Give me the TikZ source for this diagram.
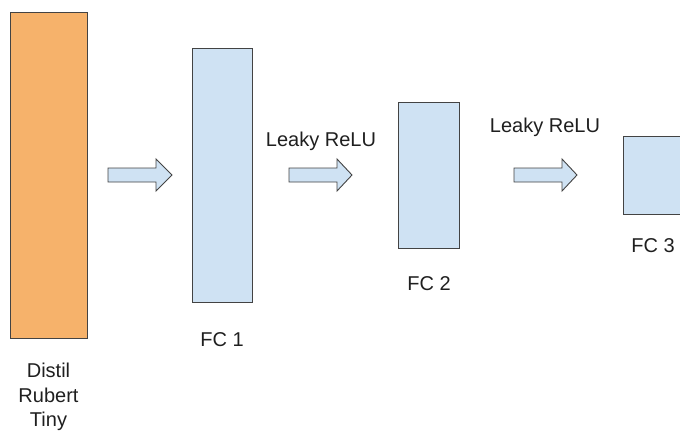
\documentclass[tikz,border=0pt]{standalone}
\usepackage{fontspec}
\setmainfont{Liberation Sans}
\definecolor{edge}{HTML}{434343}
\definecolor{orangefill}{HTML}{F6B26B}
\definecolor{bluefill}{HTML}{CFE2F3}
\definecolor{txt}{HTML}{1F1F1F}
\begin{document}
\begin{tikzpicture}[x=1pt,y=-1pt,
  layer/.style={draw=edge,line width=0.9pt},
  blockarrow/.style={draw=edge,fill=bluefill,line width=0.9pt,line join=miter},
  lbl/.style={text=txt,font=\fontsize{20}{24.5}\selectfont,inner sep=0pt,align=center}]
\useasboundingbox (0,0) rectangle (680,432);
% layers
\filldraw[layer,fill=orangefill] (10,12) rectangle (87,338);
\filldraw[layer,fill=bluefill] (192,48) rectangle (252,302);
\filldraw[layer,fill=bluefill] (398,102) rectangle (459,248);
\filldraw[layer,fill=bluefill] (623,136) rectangle (690,214);
% labels
\node[lbl] (lb) at (48.5,397) {Distil\\Rubert\\Tiny};
\node[lbl] (l1) at (222,340) {FC 1};
\node[lbl] (l2) at (429,284) {FC 2};
\node[lbl] (l3) at (653,246) {FC 3};
\node[lbl] (a1) at (321,141) {Leaky ReLU};
\node[lbl] (a2) at (545,127) {Leaky ReLU};
% block arrows
\newcommand{\blockarr}[3]{%
  \filldraw[blockarrow] (#1,168) -- (#2,168) -- (#2,159) -- (#3,175) -- (#2,191) -- (#2,182) -- (#1,182) -- cycle;}
\blockarr{108}{156}{172}
\blockarr{289}{337}{352}
\blockarr{514}{562}{577}
\end{tikzpicture}
\end{document}
